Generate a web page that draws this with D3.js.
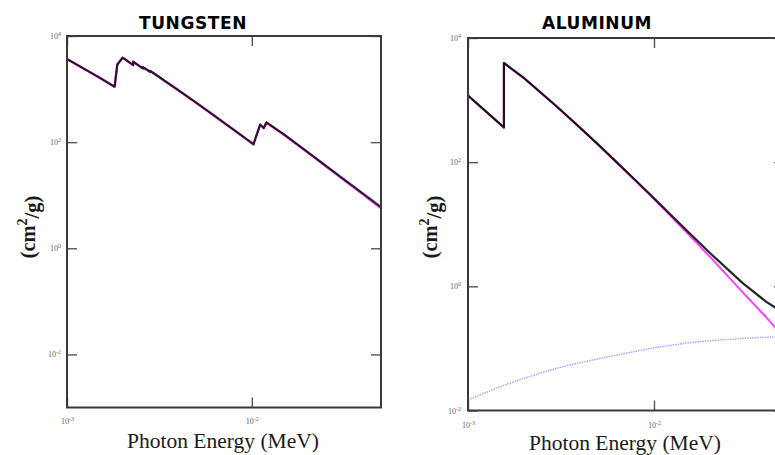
<!DOCTYPE html>
<html>
<head>
<meta charset="utf-8">
<script src="https://cdn.jsdelivr.net/npm/d3@7"></script>
<style>
body { margin: 0; background: #fff; }
</style>
</head>
<body>
<svg id="chart" width="775" height="455"></svg>
<script>
// photon energy in MeV, mass attenuation in cm2/g

// tungsten
var wEnergy = [1.0e-3, 1.5e-3, 1.8092e-3, 1.8716e-3, 2.0e-3, 2.281e-3, 2.281e-3, 2.4235e-3, 2.5749e-3, 2.5749e-3,
               2.6944e-3, 2.8196e-3, 2.8196e-3, 3.0e-3, 4.0e-3, 5.0e-3, 6.0e-3, 8.0e-3, 1.0e-2, 1.0207e-2,
               1.11e-2, 1.16e-2, 1.2e-2, 1.5e-2, 2.0e-2, 3.0e-2, 4.0e-2, 5.0e-2];
var wTotal = [3683, 1643, 1108, 2900, 3922, 2828, 3279, 2833, 2445, 2599,
              2339, 2104, 2194, 1902, 956.4, 553.4, 351.4, 170.5, 96.91, 92.01,
              215, 185, 236, 138.0, 65.73, 22.73, 10.67, 5.949];
var wPhoto = [3672, 1636, 1102, 2892, 3912, 2820, 3270, 2825, 2438, 2591,
              2332, 2097, 2187, 1895, 951, 549, 348, 168.5, 95.2, 90.3,
              212, 182, 232, 135.5, 64.3, 22.0, 10.25, 5.62];

// aluminum
var alEnergy = [1.0e-3, 1.5e-3, 1.5596e-3, 1.5596e-3, 2.0e-3, 3.0e-3, 4.0e-3, 5.0e-3,
                6.0e-3, 8.0e-3, 1.0e-2, 1.5e-2, 2.0e-2, 3.0e-2, 4.0e-2, 5.0e-2];
var alTotal = [1185, 402.2, 362.1, 3957, 2263, 788.1, 360.5, 193.4,
               115.3, 50.33, 26.23, 7.955, 3.441, 1.128, 0.5685, 0.3681];
var alPhoto = [1183, 400.8, 360.7, 3950, 2259, 785.4, 358.2, 191.6,
               113.8, 49.3, 25.4, 7.35, 2.98, 0.80, 0.32, 0.15];
var alScatEnergy = [1.0e-3, 1.5e-3, 2.0e-3, 3.0e-3, 4.0e-3, 5.0e-3, 6.0e-3,
                    8.0e-3, 1.0e-2, 1.5e-2, 2.0e-2, 3.0e-2, 4.0e-2, 5.0e-2];
var alIncoh = [0.0148, 0.0245, 0.033, 0.048, 0.059, 0.068, 0.076,
               0.090, 0.1026, 0.122, 0.133, 0.145, 0.151, 0.155];

// axes
var xDomain = [1e-3, 5e-2];
var xTickValues = [1e-3, 1e-2];
var yTickValues = [1e-2, 1e0, 1e2, 1e4];
var titles = ["TUNGSTEN", "ALUMINUM"];
var xTitle = "Photon Energy (MeV)";

var svg = d3.select("#chart");

function powerLabels(sel) {
    sel.selectAll(".tick text").each(function(d) {
        var t = d3.select(this);
        t.text(null);
        t.append("tspan").text("10");
        t.append("tspan")
            .attr("dy", "-0.5em")
            .attr("font-size", "6px")
            .text(Math.round(Math.log10(d)));
    });
}

function styleAxis(sel) {
    sel.select(".domain").remove();
    sel.selectAll(".tick line").attr("stroke", "#555").attr("stroke-width", 1.4);
    sel.selectAll(".tick text")
        .attr("fill", "#666")
        .attr("font-family", "Liberation Serif, serif")
        .attr("font-size", "8px");
}

function drawPanel(p) {
    var g = svg.append("g").attr("transform", "translate(" + p.left + "," + p.top + ")");

    var x = d3.scaleLog().domain(xDomain).range([0, p.width]);
    var y = d3.scaleLog().domain(p.yDomain).range([p.height, 0]);
    var yTicks = yTickValues.filter(function(v) { return v >= p.yDomain[0]; });

    g.append("clipPath").attr("id", p.id + "-clip")
        .append("rect").attr("width", p.width).attr("height", p.height);

    // ticks point inward on all four sides
    g.append("g")
        .attr("transform", "translate(0," + p.height + ")")
        .call(d3.axisBottom(x).tickValues(xTickValues).tickSizeInner(-10).tickSizeOuter(0).tickPadding(p.xPad))
        .call(styleAxis).call(powerLabels);
    g.append("g")
        .call(d3.axisTop(x).tickValues(xTickValues).tickSizeInner(-10).tickSizeOuter(0).tickFormat(""))
        .call(styleAxis);
    g.append("g")
        .call(d3.axisLeft(y).tickValues(yTicks).tickSizeInner(-10).tickSizeOuter(0).tickPadding(p.yPad))
        .call(styleAxis).call(powerLabels);
    g.append("g")
        .attr("transform", "translate(" + p.width + ",0)")
        .call(d3.axisRight(y).tickValues(yTicks).tickSizeInner(-10).tickSizeOuter(0).tickFormat(""))
        .call(styleAxis);

    var line = d3.line()
        .x(function(d) { return x(d[0]); })
        .y(function(d) { return y(d[1]); });

    var plot = g.append("g").attr("clip-path", "url(#" + p.id + "-clip)");

    p.series.forEach(function(s) {
        plot.append("path")
            .datum(d3.zip(s.energy, s.values))
            .attr("d", line)
            .attr("fill", "none")
            .attr("stroke", s.color)
            .attr("stroke-width", s.width)
            .attr("stroke-opacity", s.opacity || 1)
            .attr("stroke-dasharray", s.dash || null)
            .attr("stroke-linejoin", "round");
    });

    // frame
    g.append("rect")
        .attr("width", p.width)
        .attr("height", p.height)
        .attr("fill", "none")
        .attr("stroke", "#3a3a3a")
        .attr("stroke-width", 2);

    // title
    svg.append("text")
        .attr("x", p.titleX)
        .attr("y", 29)
        .attr("text-anchor", "middle")
        .attr("font-family", "DejaVu Sans, sans-serif")
        .attr("font-weight", "bold")
        .attr("font-size", "17px")
        .attr("letter-spacing", "0.6px")
        .attr("fill", "#000")
        .text(p.title);

    // x axis title
    svg.append("text")
        .attr("x", p.left + p.width / 2 - 1)
        .attr("y", p.xTitleY)
        .attr("text-anchor", "middle")
        .attr("font-family", "Liberation Serif, serif")
        .attr("font-size", "21.5px")
        .attr("fill", "#1a1a1a")
        .text(xTitle);

    // y axis title
    var yt = svg.append("text")
        .attr("transform", "translate(" + p.yTitleX + ",227) rotate(-90)")
        .attr("text-anchor", "middle")
        .attr("font-family", "Liberation Serif, serif")
        .attr("font-weight", "bold")
        .attr("font-size", "20.5px")
        .attr("fill", "#1a1a1a");
    yt.append("tspan").text("(cm");
    yt.append("tspan").attr("dy", "-0.55em").attr("font-size", "14px").text("2");
    yt.append("tspan").attr("dy", "0.55em").text("/g)");
}

drawPanel({
    id: "w", left: 67, top: 36, width: 314, height: 371.5,
    yDomain: [1e-3, 1e4], xPad: 11, yPad: 6,
    title: titles[0], titleX: 193, xTitleY: 448, yTitleX: 35,
    series: [
        {energy: wEnergy, values: wPhoto, color: "#ff40ff", width: 2.2},
        {energy: wEnergy, values: wTotal, color: "#000", width: 2.2, opacity: 0.8}
    ]
});

drawPanel({
    id: "al", left: 468, top: 38, width: 316, height: 372.5,
    yDomain: [1e-2, 1e4], xPad: 11.5, yPad: 7,
    title: titles[1], titleX: 597, xTitleY: 450, yTitleX: 437,
    series: [
        {energy: alScatEnergy, values: alIncoh, color: "#a8a8ff", width: 1.5, dash: "1.5,1"},
        {energy: alEnergy, values: alPhoto, color: "#ff40ff", width: 2},
        {energy: alEnergy, values: alTotal, color: "#000", width: 2.2, opacity: 0.85}
    ]
});
</script>
</body>
</html>
